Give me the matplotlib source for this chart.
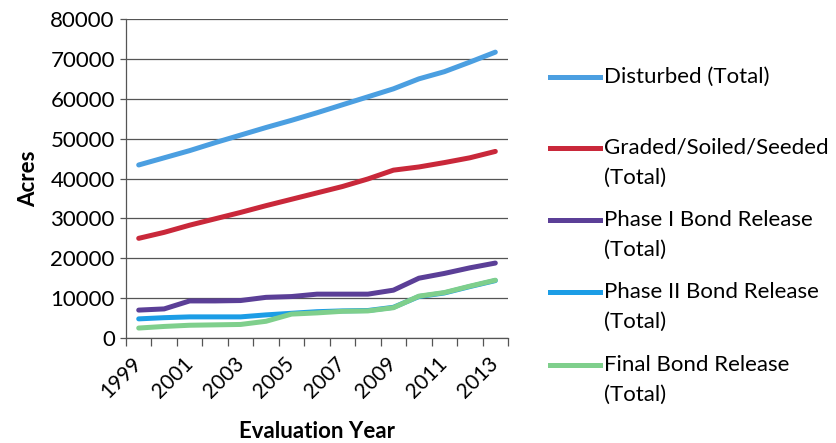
import matplotlib
matplotlib.use("Agg")
import matplotlib.pyplot as plt
from matplotlib.lines import Line2D

plt.rcParams["font.family"] = ["Lato", "DejaVu Sans"]

years = list(range(1999, 2014))
disturbed = [43400, 45200, 47000, 49000, 50900, 52800, 54600, 56500, 58500,
             60500, 62500, 65000, 66800, 69200, 71700]
graded = [25000, 26500, 28300, 29900, 31500, 33200, 34800, 36400, 38000,
          39900, 42100, 42900, 44000, 45200, 46800]
phase1 = [7000, 7300, 9300, 9300, 9400, 10200, 10400, 11000, 11000,
          11000, 12000, 15000, 16200, 17600, 18800]
phase2 = [4800, 5100, 5300, 5300, 5300, 5800, 6200, 6600, 6800,
          6900, 7700, 10400, 11300, 12900, 14400]
final = [2500, 2900, 3200, 3300, 3400, 4200, 6000, 6300, 6700,
         6800, 7600, 10500, 11400, 13000, 14500]

series_names = ["Disturbed (Total)", "Graded/Soiled/Seeded\n(Total)",
                "Phase I Bond Release\n(Total)", "Phase II Bond Release\n(Total)",
                "Final Bond Release\n(Total)"]
series_values = [disturbed, graded, phase1, phase2, final]
colors = ["#4b9fe1", "#c9283a", "#5b3f97", "#1c9de6", "#7fcf8c"]

fig = plt.figure(figsize=(8.37, 4.43), dpi=100)
ax = fig.add_axes([0.1505, 0.237, 0.4565, 0.72])

x = list(range(len(years)))
for vals, c in zip(series_values, colors):
    ax.plot(x, vals, color=c, linewidth=3.6, solid_capstyle="round")

ax.set_xlim(-0.5, len(years) - 0.5)
ax.set_ylim(0, 80000)
ax.set_yticks(range(0, 80001, 10000))
ax.yaxis.grid(True, color="#555555", linewidth=0.9)
ax.set_axisbelow(True)

# category boundaries as tick marks, odd years as labels
ax.set_xticks([i - 0.5 for i in range(len(years) + 1)])
ax.set_xticklabels([])
ax.set_xticks(x[::2], minor=True)
ax.set_xticklabels([str(y) for y in years[::2]], minor=True, rotation=45,
                   ha="right", va="center", rotation_mode="anchor")
ax.tick_params(axis="x", which="major", length=6, color="#555555", width=0.9)
ax.tick_params(axis="x", which="minor", length=0, pad=16, labelsize=15)
ax.tick_params(axis="y", length=4, color="#555555", width=0.9, labelsize=16,
               pad=4)

for s in ["top", "right"]:
    ax.spines[s].set_visible(False)
for s in ["left", "bottom"]:
    ax.spines[s].set_color("#555555")
    ax.spines[s].set_linewidth(0.9)

ax.set_ylabel("Acres", fontsize=16, fontweight="bold", labelpad=8)
fig.text(0.379, 1 - 432 / 443, "Evaluation Year", fontsize=16,
         fontweight="bold", ha="center", va="center")

# legend with the handle beside the first line of each label
legend_y = [77, 148, 220, 292, 365]
for name, c, yp in zip(series_names, colors, legend_y):
    yf = 1 - yp / 443
    fig.add_artist(Line2D([550 / 837, 600 / 837], [yf, yf], color=c,
                          linewidth=3.6, transform=fig.transFigure))
    for j, line in enumerate(name.split("\n")):
        fig.text(604 / 837, 1 - (yp + 30 * j) / 443, line, fontsize=16,
                 ha="left", va="center")

fig.savefig("out.png", dpi=100, facecolor="white")
